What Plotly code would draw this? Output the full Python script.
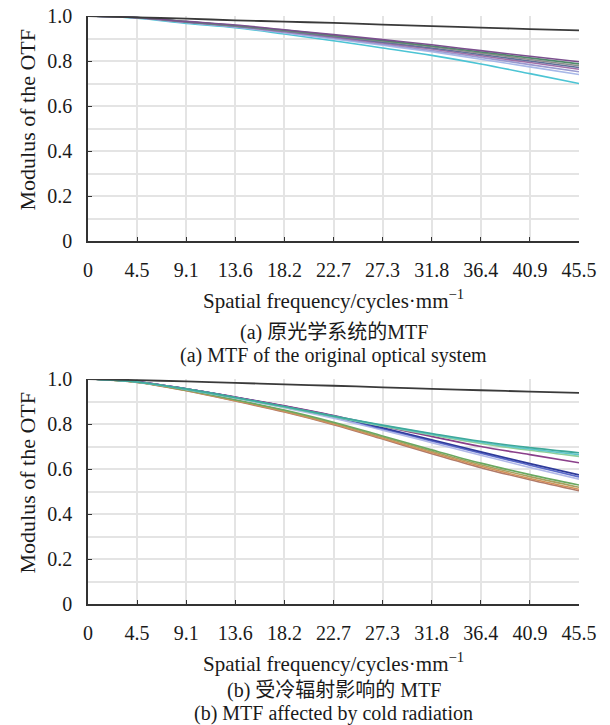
import plotly.graph_objects as go

# ---------------- data ----------------
FREQ = [0, 4.55, 9.1, 13.65, 18.2, 22.75, 27.3, 31.85, 36.4, 40.95, 45.5]
X_LABELS = ["0", "4.5", "9.1", "13.6", "18.2", "22.7", "27.3", "31.8", "36.4", "40.9", "45.5"]
Y_VALS = [0, 0.2, 0.4, 0.6, 0.8, 1.0]
Y_LABELS = ["0", "0.2", "0.4", "0.6", "0.8", "1.0"]
Y_MINOR = [0.1, 0.3, 0.5, 0.7, 0.9]

# (a) original optical system
A_DIFF = [1.0, 0.994, 0.988, 0.981, 0.975, 0.969, 0.962, 0.955, 0.948, 0.942, 0.936]
A1 = [1.0, 0.993, 0.976, 0.960, 0.939, 0.917, 0.895, 0.872, 0.846, 0.821, 0.797]
A2 = [1.0, 0.993, 0.975, 0.958, 0.937, 0.914, 0.891, 0.867, 0.840, 0.814, 0.787]
A3 = [1.0, 0.993, 0.975, 0.957, 0.935, 0.912, 0.888, 0.863, 0.835, 0.807, 0.779]
A4 = [1.0, 0.993, 0.974, 0.956, 0.933, 0.909, 0.884, 0.858, 0.829, 0.800, 0.771]
A5 = [1.0, 0.992, 0.973, 0.955, 0.931, 0.906, 0.880, 0.853, 0.823, 0.793, 0.763]
A6 = [1.0, 0.992, 0.972, 0.953, 0.928, 0.902, 0.875, 0.847, 0.816, 0.784, 0.752]
A7 = [1.0, 0.992, 0.971, 0.951, 0.925, 0.898, 0.870, 0.841, 0.808, 0.774, 0.740]
A8 = [1.0, 0.990, 0.967, 0.948, 0.920, 0.890, 0.858, 0.825, 0.787, 0.744, 0.700]
A_SERIES = [A8, A7, A6, A5, A4, A3, A2, A1]
A_COLORS = ["#4cc4d4", "#a8b8e8", "#9a9ad0", "#a070a8", "#5f6f9a", "#8c8c8c", "#4f8a6a", "#7b4f8e"]

# (b) affected by cold radiation
B_DIFF = [1.0, 0.995, 0.989, 0.983, 0.976, 0.970, 0.963, 0.956, 0.950, 0.944, 0.938]
B1 = [1.0, 0.987, 0.956, 0.918, 0.878, 0.835, 0.795, 0.758, 0.723, 0.695, 0.672]
B2 = [1.0, 0.987, 0.955, 0.917, 0.877, 0.834, 0.793, 0.755, 0.719, 0.689, 0.664]
B3 = [1.0, 0.987, 0.955, 0.916, 0.875, 0.832, 0.790, 0.751, 0.714, 0.683, 0.656]
B4 = [1.0, 0.988, 0.957, 0.920, 0.881, 0.838, 0.790, 0.745, 0.700, 0.664, 0.628]
B5 = [1.0, 0.988, 0.956, 0.919, 0.880, 0.836, 0.783, 0.730, 0.676, 0.624, 0.574]
B6 = [1.0, 0.988, 0.956, 0.918, 0.878, 0.833, 0.779, 0.725, 0.670, 0.617, 0.565]
B7 = [1.0, 0.987, 0.954, 0.915, 0.872, 0.826, 0.772, 0.717, 0.661, 0.607, 0.555]
B8 = [1.0, 0.986, 0.951, 0.908, 0.862, 0.808, 0.747, 0.685, 0.626, 0.575, 0.529]
B9 = [1.0, 0.986, 0.950, 0.906, 0.859, 0.804, 0.742, 0.679, 0.619, 0.566, 0.519]
B10 = [1.0, 0.986, 0.949, 0.904, 0.856, 0.800, 0.737, 0.673, 0.612, 0.558, 0.510]
B11 = [1.0, 0.985, 0.948, 0.902, 0.853, 0.797, 0.733, 0.668, 0.606, 0.552, 0.503]
B_SERIES = [B11, B10, B9, B8, B7, B6, B5, B4, B3, B2, B1]
B_COLORS = ["#b07a6a", "#d4905a", "#a8a060", "#6aa860", "#b0b8e8", "#5a6acb",
            "#2e3a9a", "#8a3f8a", "#8fcf9a", "#5cc6cc", "#3fa89a"]

DIFF_COLOR = "#3a3a3a"

X_TITLE = "Spatial frequency/cycles·mm<sup>−1</sup>"
Y_TITLE = "Modulus of the OTF"
CAP_A_ZH = "(a) 原光学系统的MTF"
CAP_A_EN = "(a) MTF of the original optical system"
CAP_B_ZH = "(b) 受冷辐射影响的 MTF"
CAP_B_EN = "(b) MTF affected by cold radiation"

# ---------------- layout helpers ----------------
W, H = 610, 725
FONT = "Liberation Serif"
FONT_ZH = "Liberation Serif, Noto Sans CJK SC"
TXT = "#1a1a1a"
GRID = "#e4e4e4"
AXC = "#333333"


def px_x(p):
    return p / W


def px_y(p):
    return 1 - p / H


X0, X1 = 88, 579
TOP = (16, 241)
BOT = (379, 604)

fig = go.Figure()

for ser, col in zip(A_SERIES, A_COLORS):
    fig.add_trace(go.Scatter(x=FREQ, y=ser, mode="lines", line=dict(color=col, width=1.6, shape="spline"),
                             xaxis="x", yaxis="y", showlegend=False, hoverinfo="skip"))
fig.add_trace(go.Scatter(x=FREQ, y=A_DIFF, mode="lines", line=dict(color=DIFF_COLOR, width=1.8, shape="spline"),
                         xaxis="x", yaxis="y", showlegend=False, hoverinfo="skip"))

for ser, col in zip(B_SERIES, B_COLORS):
    fig.add_trace(go.Scatter(x=FREQ, y=ser, mode="lines", line=dict(color=col, width=1.6, shape="spline"),
                             xaxis="x2", yaxis="y2", showlegend=False, hoverinfo="skip"))
fig.add_trace(go.Scatter(x=FREQ, y=B_DIFF, mode="lines", line=dict(color=DIFF_COLOR, width=1.8, shape="spline"),
                         xaxis="x2", yaxis="y2", showlegend=False, hoverinfo="skip"))


def xaxis(anchor):
    return dict(domain=[px_x(X0), px_x(X1)], anchor=anchor, range=[0, 45.5],
                tickmode="array", tickvals=FREQ, ticktext=X_LABELS,
                ticks="inside", ticklen=4, tickwidth=1.3, tickcolor=AXC,
                showline=True, linecolor=AXC, linewidth=1.5,
                showgrid=True, gridcolor=GRID, gridwidth=1.6, zeroline=False,
                automargin=False,
                tickfont=dict(family=FONT, size=20, color=TXT), ticklabelstandoff=10)


def yaxis(anchor, rng):
    return dict(domain=[px_y(rng[1]), px_y(rng[0])], anchor=anchor, range=[0, 1.0],
                tickmode="array", tickvals=Y_VALS, ticktext=Y_LABELS,
                ticks="inside", ticklen=4, tickwidth=1.3, tickcolor=AXC,
                showline=True, linecolor=AXC, linewidth=1.5,
                showgrid=True, gridcolor=GRID, gridwidth=1.6, zeroline=False,
                automargin=False,
                minor=dict(tickvals=Y_MINOR, showgrid=True, gridcolor=GRID, gridwidth=1.6, ticks=""),
                tickfont=dict(family=FONT, size=20, color=TXT), ticklabelstandoff=10)


def ann(text, x, y, size, angle=0, family=FONT):
    return dict(text=text, x=px_x(x), y=px_y(y), xref="paper", yref="paper",
                xanchor="center", yanchor="middle", showarrow=False, textangle=angle,
                font=dict(family=family, size=size, color=TXT))


cx = (X0 + X1) / 2
annotations = [
    ann(Y_TITLE, 27, (TOP[0] + TOP[1]) / 2 - 9, 22, -90),
    ann(X_TITLE, cx, 300, 21),
    ann(CAP_A_ZH, cx, 332, 20, family=FONT_ZH),
    ann(CAP_A_EN, cx, 355, 20),
    ann(Y_TITLE, 27, (BOT[0] + BOT[1]) / 2 - 9, 22, -90),
    ann(X_TITLE, cx, 662, 21),
    ann(CAP_B_ZH, cx, 690, 20, family=FONT_ZH),
    ann(CAP_B_EN, cx, 713, 20),
]

fig.update_layout(
    width=W, height=H,
    margin=dict(l=0, r=0, t=0, b=0, autoexpand=False),
    paper_bgcolor="white", plot_bgcolor="white",
    xaxis=xaxis("y"), yaxis=yaxis("x", TOP),
    xaxis2=xaxis("y2"), yaxis2=yaxis("x2", BOT),
    annotations=annotations,
    font=dict(family=FONT, color=TXT),
)

fig.write_html("out.html",
               config={"displayModeBar": False},
               post_script="document.body.style.margin='0';document.body.style.overflow='hidden';")
